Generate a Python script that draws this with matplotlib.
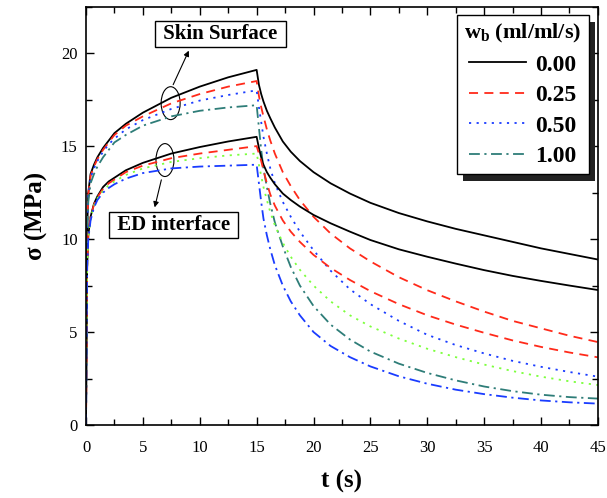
import numpy as np
import matplotlib
matplotlib.use('Agg')
import matplotlib.pyplot as plt
from matplotlib.patches import Ellipse, Rectangle
from matplotlib.ticker import MultipleLocator

plt.rcParams['font.family'] = ['Liberation Serif', 'DejaVu Serif']
plt.rcParams['mathtext.fontset'] = 'custom'
plt.rcParams['mathtext.rm'] = 'Liberation Serif'
plt.rcParams['mathtext.bf'] = 'Liberation Serif:bold'

# time axis (s): loading until 15 s, then relaxation
t_load = [0, 0.05, 0.1, 0.2, 0.4, 0.7, 1.0, 1.5, 2.0, 2.5, 3.5, 5, 7.5, 10, 12.5, 15]
t_relax = [15.2, 15.4, 15.6, 15.9, 16.2, 16.6, 17.3, 18, 18.8, 20, 21.5, 23.2, 25,
           27.5, 30, 32.5, 35, 37.5, 40, 42.5, 45]
t = t_load + t_relax

# skin surface stress (MPa)
skin_000 = [0, 6, 10.5, 12.5, 13.5, 14.0, 14.4, 14.9, 15.3, 15.7, 16.2, 16.8, 17.6, 18.2, 18.7, 19.1,
            18.3, 17.8, 17.4, 16.9, 16.5, 16.0, 15.25, 14.7, 14.2, 13.6, 13.0, 12.45, 11.95,
            11.4, 10.95, 10.55, 10.2, 9.85, 9.5, 9.2, 8.9]
skin_025 = [0, 6, 10.5, 12.4, 13.4, 13.9, 14.3, 14.8, 15.2, 15.6, 16.1, 16.6, 17.3, 17.8, 18.2, 18.5,
            17.7, 17.1, 16.6, 15.9, 15.3, 14.6, 13.6, 12.85, 12.1, 11.2, 10.3, 9.5, 8.8,
            7.95, 7.25, 6.65, 6.1, 5.6, 5.2, 4.8, 4.46]
skin_050 = [0, 6, 10.5, 12.3, 13.3, 13.8, 14.2, 14.7, 15.1, 15.4, 15.9, 16.4, 17.0, 17.45, 17.75, 18.0,
            17.1, 16.3, 15.5, 14.6, 13.8, 13.0, 12.0, 11.2, 10.4, 9.4, 8.3, 7.3, 6.5,
            5.6, 4.85, 4.3, 3.85, 3.45, 3.13, 2.85, 2.6]
skin_100 = [0, 6, 10.5, 12.0, 13.0, 13.5, 13.9, 14.4, 14.8, 15.2, 15.6, 16.1, 16.6, 16.9, 17.08, 17.2,
            16.0, 14.8, 13.8, 12.8, 11.9, 10.9, 9.6, 8.5, 7.5, 6.4, 5.4, 4.6, 3.95,
            3.3, 2.8, 2.4, 2.07, 1.82, 1.63, 1.5, 1.42]

# ED interface stress (MPa)
ed_000 = [0, 5, 8.5, 10.2, 11.2, 11.9, 12.3, 12.8, 13.1, 13.3, 13.7, 14.1, 14.6, 14.95, 15.25, 15.5,
          14.9, 14.4, 14.0, 13.6, 13.3, 12.95, 12.45, 12.1, 11.75, 11.3, 10.85, 10.4, 9.95,
          9.45, 9.05, 8.68, 8.33, 8.02, 7.75, 7.5, 7.26]
ed_025 = [0, 5, 8.5, 10.2, 11.2, 11.85, 12.25, 12.7, 13.0, 13.2, 13.6, 13.95, 14.35, 14.6, 14.8, 15.0,
          14.6, 14.2, 13.7, 13.0, 12.4, 11.8, 11.0, 10.4, 9.85, 9.15, 8.45, 7.8, 7.2,
          6.5, 5.9, 5.4, 4.96, 4.55, 4.2, 3.9, 3.64]
ed_050 = [0, 5, 8.5, 10.1, 11.1, 11.8, 12.2, 12.6, 12.9, 13.1, 13.45, 13.8, 14.15, 14.35, 14.5, 14.6,
          14.0, 13.4, 12.8, 12.1, 11.45, 10.75, 9.8, 9.05, 8.35, 7.5, 6.65, 5.9, 5.3,
          4.65, 4.1, 3.65, 3.25, 2.9, 2.6, 2.35, 2.15]
ed_100 = [0, 5, 8.5, 10.0, 11.0, 11.7, 12.1, 12.5, 12.75, 12.95, 13.25, 13.55, 13.8, 13.9, 13.95, 14.0,
          13.0, 12.0, 11.1, 10.2, 9.45, 8.6, 7.5, 6.65, 5.9, 5.0, 4.25, 3.65, 3.15,
          2.62, 2.22, 1.9, 1.66, 1.47, 1.32, 1.22, 1.15]

labels = ['0.00', '0.25', '0.50', '1.00']

fig = plt.figure(figsize=(6.07, 4.98), dpi=100)
ax = fig.add_axes([0.1417, 0.1466, 0.8433, 0.84])

lw = 1.3
ax.plot(t, skin_000, '-', color='black', lw=lw, label=labels[0])
ax.plot(t, skin_025, color='#ff2a1a', lw=lw, dashes=(5, 3.5), label=labels[1])
ax.plot(t, skin_050, color='#1a3cff', lw=lw, dashes=(1.2, 3), label=labels[2])
ax.plot(t, skin_100, color='#2e7d78', lw=lw, dashes=(6, 2.5, 1.2, 2.5), label=labels[3])

ax.plot(t, ed_000, '-', color='black', lw=lw)
ax.plot(t, ed_025, color='#ff2a1a', lw=lw, dashes=(5, 3.5))
ax.plot(t, ed_050, color='#7cff3c', lw=lw, dashes=(1.2, 3))
ax.plot(t, ed_100, color='#1a3cff', lw=lw, dashes=(6, 2.5, 1.2, 2.5))

ax.set_xlim(0, 45)
ax.set_ylim(0, 22.5)
ax.xaxis.set_major_locator(MultipleLocator(5))
ax.xaxis.set_minor_locator(MultipleLocator(2.5))
ax.yaxis.set_major_locator(MultipleLocator(5))
ax.yaxis.set_minor_locator(MultipleLocator(2.5))
ax.tick_params(which='both', direction='in', top=True, right=True, labelsize=12)
ax.tick_params(which='major', length=6, width=1)
ax.tick_params(which='minor', length=4, width=1)
ax.tick_params(axis='x', which='major', pad=11)
ax.tick_params(axis='y', which='major', pad=6)
for s in ax.spines.values():
    s.set_linewidth(1.2)

ax.set_xlabel('t (s)', fontsize=18, fontweight='bold', labelpad=10)
ax.set_ylabel('σ (MPa)', fontsize=18, fontweight='bold', labelpad=9)

# annotations
box = dict(boxstyle='square,pad=0.15', fc='white', ec='black', lw=1)
ax.text(11.8, 21.05, ' Skin Surface ', fontsize=15, fontweight='bold', ha='center', va='center', bbox=box)
ax.text(7.7, 10.75, ' ED interface ', fontsize=15, fontweight='bold', ha='center', va='center', bbox=box)
ax.add_patch(Ellipse((7.44, 17.31), 1.67, 1.77, fill=False, ec='black', lw=0.8))
ax.add_patch(Ellipse((6.94, 14.25), 1.58, 1.77, fill=False, ec='black', lw=0.8))
ax.annotate('', xy=(9.14, 20.27), xytext=(7.56, 18.17),
            arrowprops=dict(arrowstyle='-|>', color='black', lw=0.8, mutation_scale=8))
ax.annotate('', xy=(5.98, 11.56), xytext=(6.68, 13.33),
            arrowprops=dict(arrowstyle='-|>', color='black', lw=0.8, mutation_scale=8))

leg = ax.legend(loc='upper right', bbox_to_anchor=(0.982, 0.98), borderaxespad=0,
                title=r'$\mathbf{w_b}$ (ml/ml/s)', fancybox=False, framealpha=1,
                edgecolor='black', handlelength=2.4, labelspacing=0.38,
                prop={'size': 17, 'weight': 'bold'}, borderpad=0.3, handletextpad=0.4)
leg.get_title().set_fontsize(16)
leg.get_title().set_fontweight('bold')
leg.get_frame().set_linewidth(1)
leg.set_zorder(6)

# drop shadow behind the legend box
fig.canvas.draw()
bb = leg.get_window_extent()
ax.add_patch(Rectangle((bb.x0 + 6, bb.y0 - 7), bb.width, bb.height, transform=None,
                       fc='#222222', ec='none', zorder=5.5, clip_on=False))

fig.savefig('out.png', dpi=100)
